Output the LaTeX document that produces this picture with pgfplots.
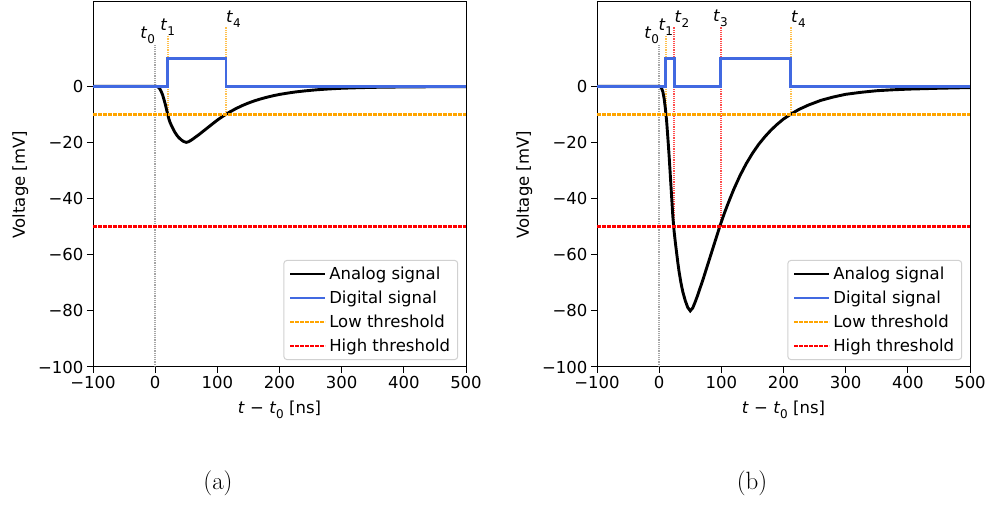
\documentclass[border=0pt]{standalone}
\usepackage{fontspec}
\usepackage{pgfplots}
\pgfplotsset{compat=1.18}
\newfontfamily\dejavu{DejaVu Sans}
\definecolor{royal}{HTML}{4169E1}
\definecolor{thorange}{HTML}{FFA500}
\definecolor{thred}{HTML}{FF0000}
\newcommand{\mpl}{\dejavu\fontsize{16.5bp}{19bp}\selectfont}
\newcommand{\tl}[1]{\textit{t}\raisebox{-0.3em}{\fontsize{12bp}{12bp}\selectfont #1}}

\pgfplotsset{
  sigpanel/.style={
    scale only axis, width=373bp, height=365bp, anchor=south west,
    xmin=-100, xmax=500, ymin=-100, ymax=30,
    xtick={-100,0,...,500}, xticklabels={−100,0,100,200,300,400,500},
    ytick={-100,-80,...,0}, yticklabels={−100,−80,−60,−40,−20,0},
    tick align=outside, tick pos=left, major tick length=6bp,
    tick style={black, line width=1bp},
    axis line style={line width=1bp},
    ticklabel style={font=\mpl},
    label style={font=\mpl},
    xlabel={\textit{t} − \tl{0} [ns]},
    ylabel={Voltage [mV]},
    xlabel style={yshift=-5bp},
    ylabel style={yshift=3bp},
    legend cell align=left,
    legend style={at={(rel axis cs:0.979,0.019)}, anchor=south east,
      font=\mpl, draw=black!18, line width=1bp, rounded corners=3bp,
      fill=white, fill opacity=0.8, text opacity=1,
      inner xsep=5bp, inner ysep=4bp, row sep=5bp,
      nodes={inner sep=2.5bp}},
    legend image code/.code={\draw[##1] (0bp,0bp) -- (35bp,0bp);},
  },
  analog/.style={black, line width=2.9bp},
  digital/.style={royal, line width=2.9bp},
  low/.style={thorange, line width=2.6bp, dash pattern=on 3.5bp off 1.5bp},
  high/.style={thred, line width=2.6bp, dash pattern=on 3.5bp off 1.5bp},
  vmark/.style={line width=2bp, dash pattern=on 1.2bp off 1bp, opacity=0.7, forget plot},
}

\begin{document}
\begin{tikzpicture}
\path[use as bounding box] (0,0) rectangle (990bp,506bp);

% (a) low amplitude pulse
\begin{axis}[sigpanel, at={(93bp,139bp)}]
\addplot[vmark, gray] coordinates {(0,-100) (0,15)};
\addplot[vmark, thorange] coordinates {(20,-10) (20,18)};
\addplot[vmark, thorange] coordinates {(114,-10) (114,21)};
\addplot[analog] coordinates {
  (-100,0) (0,0) (2,-0.04) (4,-0.2) (6,-0.5) (8,-1.1) (10,-2.0) (12,-3.1)
  (14,-4.6) (16,-6.2) (18,-8.0) (20,-9.8) (22,-11.6) (24,-12.9) (26,-13.9)
  (28,-14.8) (30,-15.7) (32,-16.5) (35,-17.5) (38,-18.3) (42,-19.1) (46,-19.7)
  (50,-20) (54,-19.74) (58,-19.2) (62,-18.6) (66,-17.94) (70,-17.3) (74,-16.6)
  (78,-15.9) (82,-15.2) (86,-14.5) (90,-13.8) (94,-13.1) (98,-12.4) (102,-11.76)
  (106,-11.14) (110,-10.56) (114,-10.0) (120,-9.18) (130,-7.96) (140,-6.9)
  (150,-5.98) (160,-5.18) (170,-4.5) (180,-3.9) (190,-3.38) (200,-2.92)
  (212,-2.48) (225,-2.06) (240,-1.68) (260,-1.26) (280,-0.96) (300,-0.72)
  (325,-0.54) (350,-0.4) (375,-0.32) (400,-0.26) (450,-0.18) (500,-0.12)
};
\addlegendentry{Analog signal}
\addplot[digital] coordinates {
  (-100,0) (20,0) (20,10) (114,10) (114,0) (500,0)
};
\addlegendentry{Digital signal}
\addplot[low] coordinates {(-100,-10) (500,-10)};
\addlegendentry{Low threshold}
\addplot[high] coordinates {(-100,-50) (500,-50)};
\addlegendentry{High threshold}
\node[anchor=south east, inner sep=0pt, font=\mpl] at (axis cs:0,15) {\tl{0}};
\node[anchor=south, inner sep=0pt, font=\mpl] at (axis cs:20,18) {\tl{1}};
\node[anchor=south west, inner sep=0pt, font=\mpl] at (axis cs:114,21) {\tl{4}};
\end{axis}

% (b) high amplitude pulse
\begin{axis}[sigpanel, at={(597bp,139bp)}]
\addplot[vmark, gray] coordinates {(0,-100) (0,15)};
\addplot[vmark, thorange] coordinates {(10.7,-10) (10.7,18)};
\addplot[vmark, thred] coordinates {(24.6,-50) (24.6,21)};
\addplot[vmark, thred] coordinates {(98.7,-50) (98.7,21)};
\addplot[vmark, thorange] coordinates {(211.8,-10) (211.8,21)};
\addplot[analog] coordinates {
  (-100,0) (0,0) (2,-0.16) (4,-0.8) (6,-2.0) (8,-4.4) (10,-8.0) (12,-12.4)
  (14,-18.4) (16,-24.8) (18,-32.0) (20,-39.2) (22,-46.4) (24,-51.6) (26,-55.6)
  (28,-59.2) (30,-62.8) (32,-66.0) (35,-70.0) (38,-73.2) (42,-76.4) (46,-78.8)
  (50,-80) (54,-78.96) (58,-76.8) (62,-74.4) (66,-71.76) (70,-69.2) (74,-66.4)
  (78,-63.6) (82,-60.8) (86,-58.0) (90,-55.2) (94,-52.4) (98,-49.6) (102,-47.04)
  (106,-44.56) (110,-42.24) (114,-40.0) (120,-36.72) (130,-31.84) (140,-27.6)
  (150,-23.92) (160,-20.72) (170,-18.0) (180,-15.6) (190,-13.52) (200,-11.68)
  (212,-9.92) (225,-8.24) (240,-6.72) (260,-5.04) (280,-3.84) (300,-2.88)
  (325,-2.16) (350,-1.6) (375,-1.28) (400,-1.04) (450,-0.72) (500,-0.48)
};
\addlegendentry{Analog signal}
\addplot[digital] coordinates {
  (-100,0) (10.7,0) (10.7,10) (24.6,10) (24.6,0) (98.7,0) (98.7,10)
  (211.8,10) (211.8,0) (500,0)
};
\addlegendentry{Digital signal}
\addplot[low] coordinates {(-100,-10) (500,-10)};
\addlegendentry{Low threshold}
\addplot[high] coordinates {(-100,-50) (500,-50)};
\addlegendentry{High threshold}
\node[anchor=south east, inner sep=0pt, font=\mpl] at (axis cs:0,15) {\tl{0}};
\node[anchor=south, inner sep=0pt, font=\mpl] at (axis cs:10.7,18) {\tl{1}};
\node[anchor=south west, inner sep=0pt, font=\mpl] at (axis cs:24.6,21) {\tl{2}};
\node[anchor=south, inner sep=0pt, font=\mpl] at (axis cs:98.7,21) {\tl{3}};
\node[anchor=south west, inner sep=0pt, font=\mpl] at (axis cs:211.8,21) {\tl{4}};
\end{axis}

\node[font=\fontsize{25bp}{30bp}\selectfont] at (218bp,23bp) {(a)};
\node[font=\fontsize{25bp}{30bp}\selectfont] at (752bp,23bp) {(b)};
\end{tikzpicture}
\end{document}
